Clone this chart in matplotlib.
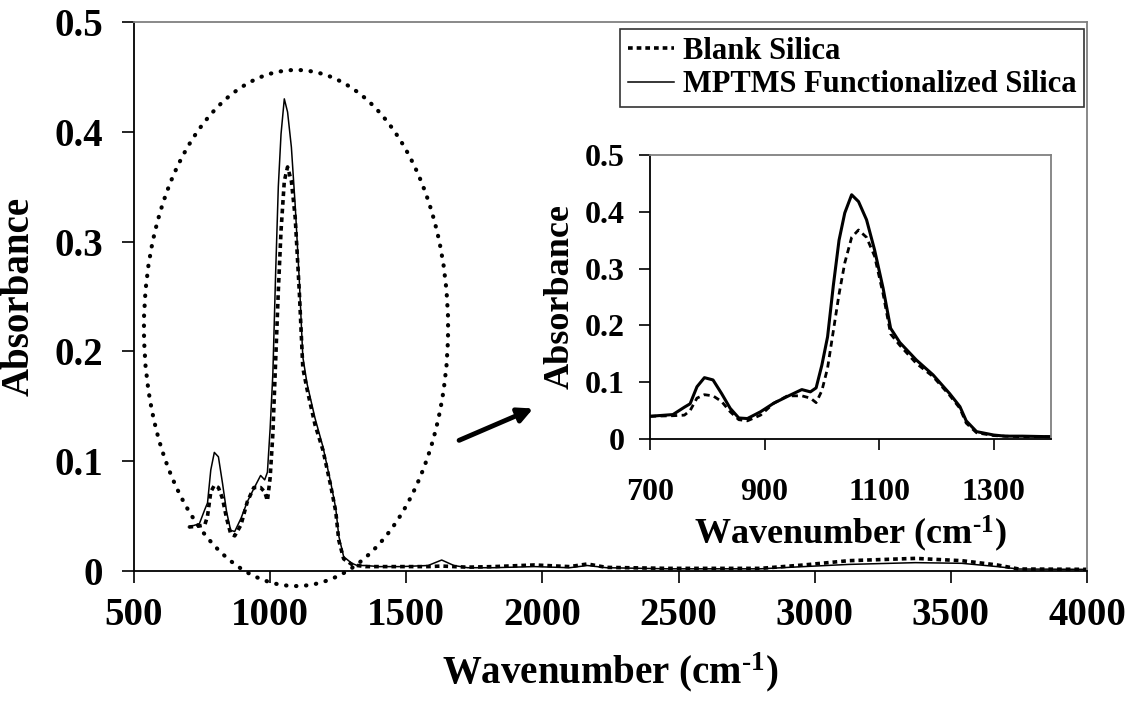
import matplotlib
matplotlib.use("Agg")
import matplotlib.pyplot as plt
from matplotlib.patches import Ellipse

plt.rcParams['font.family'] = ['Liberation Serif', 'DejaVu Serif']
plt.rcParams['font.weight'] = 'bold'
plt.rcParams['mathtext.fontset'] = 'custom'
plt.rcParams['mathtext.rm'] = 'Liberation Serif:bold'
plt.rcParams['mathtext.bf'] = 'Liberation Serif:bold'
plt.rcParams['mathtext.default'] = 'rm'

# ---- data ----
wavenumber = [700, 740, 760, 770, 782, 795, 810, 825, 840, 855, 870, 893, 916, 940,
              965, 980, 990, 1000, 1010, 1020, 1030, 1040, 1052, 1064, 1078, 1092,
              1107, 1120, 1136, 1165, 1194, 1223, 1241, 1252, 1270, 1300, 1320, 1350,
              1400, 1480, 1580, 1630, 1675, 1725, 1820, 1970, 2100, 2165, 2235, 2460,
              2800, 2960, 3125, 3370, 3540, 3670, 3750, 4000]
mptms = [0.040, 0.043, 0.056, 0.062, 0.092, 0.108, 0.104, 0.080, 0.054, 0.037, 0.036,
         0.048, 0.063, 0.075, 0.087, 0.083, 0.090, 0.130, 0.180, 0.270, 0.350, 0.398,
         0.430, 0.418, 0.386, 0.333, 0.265, 0.195, 0.170, 0.139, 0.113, 0.080, 0.057,
         0.032, 0.013, 0.007, 0.005, 0.005, 0.004, 0.004, 0.005, 0.010, 0.005, 0.003,
         0.003, 0.004, 0.003, 0.005, 0.003, 0.002, 0.002, 0.004, 0.006, 0.0076, 0.007,
         0.004, 0.0018, 0.0015]
blank = [0.040, 0.041, 0.042, 0.050, 0.072, 0.078, 0.076, 0.066, 0.048, 0.034, 0.032,
         0.042, 0.063, 0.076, 0.076, 0.072, 0.064, 0.085, 0.125, 0.190, 0.255, 0.310,
         0.355, 0.368, 0.355, 0.322, 0.255, 0.185, 0.165, 0.133, 0.110, 0.077, 0.054,
         0.028, 0.011, 0.006, 0.005, 0.004, 0.004, 0.004, 0.004, 0.0045, 0.004, 0.0035,
         0.004, 0.0055, 0.004, 0.0064, 0.0033, 0.0024, 0.0024, 0.0055, 0.0094, 0.0115,
         0.0094, 0.0055, 0.0018, 0.0015]
series_labels = ["Blank Silica", "MPTMS Functionalized Silica"]
main_xticks = [500, 1000, 1500, 2000, 2500, 3000, 3500, 4000]
main_yticks = [0, 0.1, 0.2, 0.3, 0.4, 0.5]
inset_xticks = [700, 900, 1100, 1300]
inset_yticks = [0, 0.1, 0.2, 0.3, 0.4, 0.5]
ytick_labels = ["0", "0.1", "0.2", "0.3", "0.4", "0.5"]
xlabel_text = r"Wavenumber (cm$^{\text{-}1}$)"

W, H = 1132, 711
fig = plt.figure(figsize=(W / 100, H / 100), dpi=100)

def px_rect(l, t, r, b):
    return [l / W, 1 - b / H, (r - l) / W, (b - t) / H]

gray = '#808080'

def style_axes(ax, lw=1.3):
    for s in ['left', 'bottom']:
        ax.spines[s].set_color('black')
        ax.spines[s].set_linewidth(lw)
    for s in ['top', 'right']:
        ax.spines[s].set_color(gray)
        ax.spines[s].set_linewidth(lw)

# ---- main axes ----
ax = fig.add_axes(px_rect(134, 22, 1087, 571))
l_blank, = ax.plot(wavenumber, blank, color='black', lw=2.6, linestyle=(0, (1.3, 1.1)))
l_mptms, = ax.plot(wavenumber, mptms, color='black', lw=1.1)
ax.set_xlim(500, 4000)
ax.set_ylim(0, 0.5)
ax.set_xticks(main_xticks)
ax.set_xticklabels([str(v) for v in main_xticks])
ax.set_yticks(main_yticks)
ax.set_yticklabels(ytick_labels)
ax.tick_params(axis='both', direction='out', length=8.5, width=1.2, labelsize=28)
ax.tick_params(axis='y', pad=14)
ax.tick_params(axis='x', pad=10)
style_axes(ax)
ax.set_xlabel(xlabel_text, fontsize=28, fontweight='bold', labelpad=12)
ax.set_ylabel("Absorbance", fontsize=28, fontweight='bold', labelpad=12)

leg = ax.legend([l_blank, l_mptms], series_labels, loc='upper right',
                bbox_to_anchor=(0.997, 0.987), borderaxespad=0, fontsize=22,
                frameon=True, fancybox=False, handlelength=1.5, handletextpad=0.3,
                labelspacing=0.15, borderpad=0.25)
leg.get_frame().set_edgecolor('black')
leg.get_frame().set_linewidth(1.2)

# dotted ellipse highlighting the fingerprint region
ell = Ellipse((1095, 0.2213), width=1117, height=0.470, fill=False, edgecolor='black',
              lw=3, linestyle=(0, (0.1, 2.3)), clip_on=False)
ell.set_capstyle('round')
ax.add_patch(ell)

# arrow pointing to the inset
ax.annotate("", xy=(1966, 0.148), xytext=(1694, 0.119),
            arrowprops=dict(arrowstyle='-|>', color='black', lw=3.5, mutation_scale=22,
                            shrinkA=0, shrinkB=0))

# ---- inset axes ----
ins = fig.add_axes(px_rect(650, 155, 1051, 439))
ins.plot(wavenumber, blank, color='black', lw=2.0, linestyle=(0, (2.2, 1.6)))
ins.plot(wavenumber, mptms, color='black', lw=2.2)
ins.set_xlim(700, 1400)
ins.set_ylim(0, 0.5)
ins.set_xticks(inset_xticks)
ins.set_xticklabels([str(v) for v in inset_xticks])
ins.set_yticks(inset_yticks)
ins.set_yticklabels(ytick_labels)
ins.tick_params(axis='both', direction='out', length=8, width=1.2, labelsize=23)
ins.tick_params(axis='y', pad=10)
ins.tick_params(axis='x', pad=20)
style_axes(ins)
ins.set_xlabel(xlabel_text, fontsize=26, fontweight='bold', labelpad=5)
ins.set_ylabel("Absorbance", fontsize=26, fontweight='bold', labelpad=6)

fig.savefig("out.png", dpi=100)
